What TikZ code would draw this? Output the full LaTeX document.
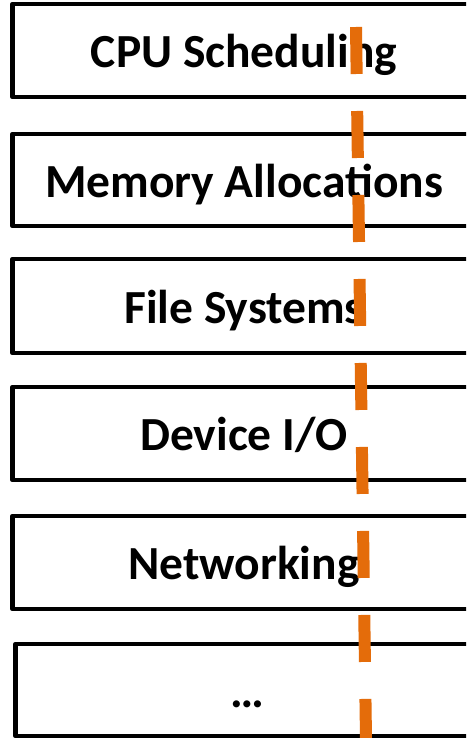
\documentclass[tikz,border=0pt]{standalone}
\usepackage{fontspec}
\setmainfont{Carlito}
\definecolor{cutorange}{RGB}{228,108,10}
\begin{document}
\begin{tikzpicture}[x=1pt,y=-1pt,
  layer/.style={draw=black, line width=4.5pt, line join=round, fill=white,
    minimum width=463pt, inner sep=0pt, text height=34pt, text depth=0pt,
    font=\bfseries\fontsize{47.5}{47.5}\selectfont},
  cutline/.style={draw=cutorange, line width=12pt, dash pattern=on 47pt off 37pt}]
  \useasboundingbox (0,0) rectangle (466,738);
  \clip (0,0) rectangle (466,738);
  % stacked kernel subsystems
  \node[layer, minimum height=93pt] (b1) at (244,50.5)  {CPU Scheduling};
  \node[layer, minimum height=92pt] (b2) at (244,180)   {Memory Allocations};
  \node[layer, minimum height=94pt] (b3) at (244,306)   {File Systems};
  \node[layer, minimum height=93pt] (b4) at (244,433.5) {Device I/O};
  \node[layer, minimum height=93pt] (b5) at (244,562.5) {Networking};
  \node[layer, minimum height=92pt] (b6) at (247,690)   {…};
  % dashed cut across all layers
  \coordinate (cuttop) at (356,27);
  \coordinate (cutbot) at (366.3,760);
  \draw[cutline] (cuttop) -- (cutbot);
\end{tikzpicture}
\end{document}
